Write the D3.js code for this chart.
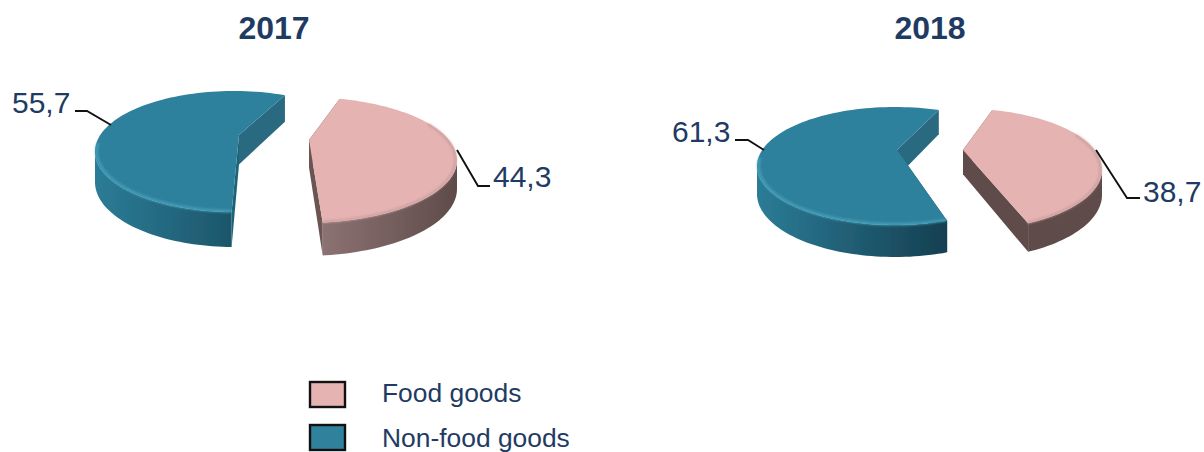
<!DOCTYPE html>
<html>
<head>
<meta charset="utf-8">
<script src="https://cdnjs.cloudflare.com/ajax/libs/d3/7.8.5/d3.min.js"></script>
<style>
  html, body { margin: 0; padding: 0; background: #fff; overflow: hidden; }
  text { font-family: "Liberation Sans", Arial, sans-serif; fill: #1f3b63; }
</style>
</head>
<body>
<div id="chart"></div>
<script>
const categories = ["Food goods", "Non-food goods"];
const years = ["2017", "2018"];
const values2017 = [44.3, 55.7];
const values2018 = [38.7, 61.3];

const colors = {
    top: ["#e5b3b2", "#2f819c"],
    back: ["#5f4b48", "#2a6a80"],
    edge: ["#c99d9d", "#48a5c0"]
};

const width = 1204, height = 452;

// each slice has its own ellipse because the pies are exploded and warped
const layout = [
    {
        titleX: 274, start: 21.5, values: values2017,
        slices: [
            { cx: 304, cy: 160, rx: 153, ry: 63, ax: 5, ay: -20, depth: 33, spin: -8, sideA: "#8c7272", sideB: "#5f4b4a", front: "#6a5452" },
            { cx: 234, cy: 151.5, rx: 139, ry: 60.5, ax: 5, ay: -16.5, depth: 35, spin: 0, sideA: "#2b7c97", sideB: "#1d566a", front: "#1f6379" }
        ],
        labels: [
            { x: 493, y: 187, line: [[457, 150], [478, 186], [490, 186]] },
            { x: 12, y: 113, line: [[75, 111], [87, 111], [111, 125]] }
        ]
    },
    {
        titleX: 930, start: 18.5, values: values2018,
        slices: [
            { cx: 962, cy: 169.5, rx: 140, ry: 61, ax: 1, ay: -19.5, depth: 29, spin: -6, sideA: "#5f4b48", sideB: "#5f4b48", front: "#5f4b48" },
            { cx: 895, cy: 166, rx: 138, ry: 59, ax: 2, ay: -16, depth: 32, spin: 0, sideA: "#2b7c97", sideB: "#153f50", front: "#153f50" }
        ],
        labels: [
            { x: 1143, y: 202, line: [[1096, 150], [1127, 198], [1140, 198]] },
            { x: 672, y: 142, line: [[735, 140], [748, 140], [764, 150]] }
        ]
    }
];

const svg = d3.select("#chart").append("svg")
    .attr("width", width)
    .attr("height", height)
    .style("display", "block");

const defs = svg.append("defs");

defs.append("filter").attr("id", "soft")
    .append("feGaussianBlur").attr("stdDeviation", 0.5);
defs.append("filter").attr("id", "bevel")
    .attr("x", "-10%").attr("y", "-10%").attr("width", "120%").attr("height", "120%")
    .append("feGaussianBlur").attr("stdDeviation", 1);

const line = d3.line();
const rad = d => d * Math.PI / 180;

// far side of the pie is drawn a bit thinner, like the perspective in the original
function dropAt(s, y) {
    return s.depth * (0.75 + 0.25 * (y - (s.cy - s.ry)) / (2 * s.ry));
}

// point on the rim, angle in degrees clockwise from 12 o'clock
function rim(s, a, k = 1) {
    return [s.cx + k * s.rx * Math.sin(rad(a)), s.cy - k * s.ry * Math.cos(rad(a))];
}

function low(s, p) {
    return [p[0], p[1] + dropAt(s, p[1])];
}

function arcPoints(s, from, to, k = 1) {
    const pts = d3.range(from, to, 2).map(a => rim(s, a, k));
    pts.push(rim(s, to, k));
    return pts;
}

function drawPie(chart, n) {
    const pie = d3.pie().sort(null)
        .startAngle(rad(chart.start))
        .endAngle(rad(chart.start + 360));
    const arcs = pie(chart.values);

    const g = svg.append("g").attr("filter", "url(#soft)");

    arcs.forEach((d, i) => {
        const s = chart.slices[i];
        const a0 = d.startAngle * 180 / Math.PI + s.spin;
        const a1 = d.endAngle * 180 / Math.PI + s.spin;
        const apex = [s.cx + s.ax, s.cy + s.ay];
        const p0 = rim(s, a0);
        const p1 = rim(s, a1);

        const grad = defs.append("linearGradient").attr("id", `side${n}${i}`);
        grad.append("stop").attr("offset", "0%").attr("stop-color", s.sideA);
        grad.append("stop").attr("offset", "100%").attr("stop-color", s.sideB);

        // cut faces, the food slice starts at the back and the other one ends there
        g.append("path").attr("d", line([apex, p0, low(s, p0), low(s, apex)]) + "Z")
            .attr("fill", i === 0 ? colors.back[0] : s.front);
        g.append("path").attr("d", line([apex, p1, low(s, p1), low(s, apex)]) + "Z")
            .attr("fill", i === 0 ? s.front : colors.back[1]);

        // outer wall, only the part that looks towards the viewer
        const from = Math.max(a0, 90), to = Math.min(a1, 270);
        const upper = arcPoints(s, from, to);
        const lower = upper.map(p => low(s, p)).reverse();
        g.append("path").attr("d", line(upper.concat(lower)) + "Z").attr("fill", `url(#side${n}${i})`);

        // top face
        const top = [apex].concat(arcPoints(s, a0, a1));
        g.append("path").attr("d", line(top) + "Z").attr("fill", colors.top[i]);

        // rounded rim
        g.append("path")
            .attr("d", line(arcPoints(s, Math.max(a0, i === 0 ? 55 : 100), Math.min(a1, 278), 0.988)))
            .attr("fill", "none")
            .attr("stroke", colors.edge[i])
            .attr("stroke-width", 2.5)
            .attr("stroke-opacity", 0.85)
            .attr("filter", "url(#bevel)");

        // label and leader
        const lab = chart.labels[i];
        svg.append("path").attr("d", line(lab.line))
            .attr("fill", "none").attr("stroke", "#111").attr("stroke-width", 1.9);
        svg.append("text").attr("x", lab.x).attr("y", lab.y)
            .attr("font-size", 30)
            .text(d3.format(".1f")(d.data).replace(".", ","));
    });
}

layout.forEach((chart, i) => {
    svg.append("text")
        .attr("x", chart.titleX).attr("y", 39)
        .attr("text-anchor", "middle")
        .attr("font-size", 32)
        .attr("font-weight", "bold")
        .text(years[i]);
    drawPie(chart, i);
});

const legendBox = d3.scalePoint().domain(categories).range([382, 425]);
const legendText = d3.scalePoint().domain(categories).range([402, 446.5]);

categories.forEach((c, i) => {
    svg.append("rect")
        .attr("x", 310).attr("y", legendBox(c))
        .attr("width", 35).attr("height", 25)
        .attr("fill", colors.top[i])
        .attr("stroke", "#111").attr("stroke-width", 2.4);
    svg.append("text")
        .attr("x", 382).attr("y", legendText(c))
        .attr("font-size", 26.4)
        .text(c);
});
</script>
</body>
</html>
